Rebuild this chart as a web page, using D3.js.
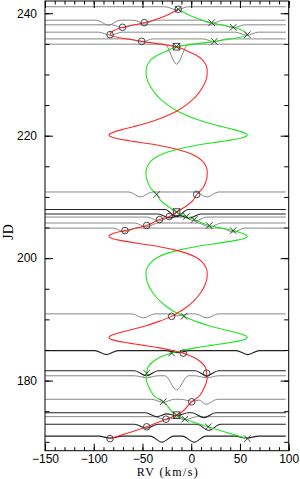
<!DOCTYPE html>
<html><head><meta charset="utf-8">
<script src="https://cdn.jsdelivr.net/npm/d3@7"></script>
<style>html,body{margin:0;padding:0;background:#fff;} svg{display:block;}</style>
</head><body><div id="chart"></div>
<script>
// ---------- data ----------
const xTicks = [-150, -100, -50, 0, 50, 100];
const yTicks = [180, 200, 220, 240];
const xLabel = "RV (km/s)";
const yLabel = "JD";

// observations: JD, primary RV (circle), secondary RV (cross)
const obsJD = [170.52, 172.45, 173.70, 174.35, 176.54, 181.20, 184.49, 190.49,
  204.50, 205.33, 206.30, 206.80, 207.53, 210.40,
  234.54, 235.40, 236.50, 237.70, 238.46, 240.65];
const obsV1 = [-83.3, -45.7, -25.9, -15.0, 0.5, 15.8, -8.2, -20.1,
  -68.0, -45.7, -32.6, -22.5, -15.0, 5.6,
  -15.1, -50.8, -83.3, -70.5, -48.2, -13.3];
const obsV2 = [57.5, 17.5, -6.4, -15.0, -28.7, -45.7, -20.1, -7.4,
  43.1, 18.5, 3.0, -5.0, -15.0, -35.4,
  -15.1, 23.6, 57.5, 43.1, 21.0, -13.3];
const obsBlend = [0,0,0,1,0,0,0,0, 0,0,0,0,1,0, 1,0,0,0,0,0];
// line-profile group of each spectrum and its absorption dips [RV, depth]
const obsProfileSet = ["dark","dark","light","dark","light","dark","dark","light",
  "light","light","light","dark","dark","light",
  "light","light","light","light","light","light"];
const obsDips = [
  [[-83,2],[-30,6],[3,6],[57,2]],
  [[-46,4],[18,6]],
  [[-26,3],[-6,3]],
  [[-35,4],[-15,3],[13,5]],
  [[-29,3],[1,2],[15,5]],
  [[-46,5],[16,5]],
  [[-87,4],[-14,2],[58,4]],
  [[-49,4],[-14,2],[16,4]],
  [[-68,4],[43,4]],
  [[-46,4],[19,4]],
  [[-33,4],[4,4]],
  [[-22,4],[-2,4]],
  [[-15,7]],
  [[-52,5],[16,5]],
  [[-15,20]],
  [[-51,3],[24,3]],
  [[-83,3],[57,3]],
  [[-70,3],[43,3]],
  [[-85,5],[-48,3],[21,3]],
  [[-15,3]]
];
const extraJD = [180.38];
const extraProfileSet = ["light"];
const extraDips = [[[-46,2],[-15,14],[16,2]]];

// orbit model between the observation groups
const modelJD = [177.37,178.35,179.32,180.28,
  182.07,182.87,183.60,184.25,
  184.82,185.34,185.79,186.01,186.21,186.41,186.61,186.81,187.01,187.22,187.43,187.65,187.89,188.40,188.97,189.63,
  191.15,192.02,192.94,193.90,194.88,195.85,196.81,197.73,198.60,199.40,200.13,200.78,201.35,201.87,202.32,202.54,202.74,202.94,203.14,203.34,203.54,203.75,203.96,204.18,
  208.55,209.47,
  211.41,212.38,213.34,214.26,215.13,215.93,216.66,217.31,217.88,218.40,218.85,219.07,219.27,219.47,219.67,219.87,220.07,220.28,220.49,220.71,220.95,221.46,222.03,222.69,223.41,224.21,225.08,226.00,226.96,227.94,228.91,229.87,230.79,231.66,232.46,233.19,233.84];
const modelV1 = [7.62,11.79,14.70,16.27,
  14.73,11.03,4.80,-4.45,
  -17.06,-32.86,-50.57,-59.33,-67.41,-74.34,-79.65,-83.04,-84.35,-83.65,-81.11,-77.06,-71.88,-59.51,-46.34,-33.79,
  -12.83,-4.62,2.16,7.62,11.79,14.70,16.27,16.36,14.73,11.03,4.80,-4.45,-17.06,-32.86,-50.57,-59.33,-67.41,-74.34,-79.65,-83.04,-84.35,-83.65,-81.11,-77.06,
  -4.62,2.16,
  11.79,14.70,16.27,16.36,14.73,11.03,4.80,-4.45,-17.06,-32.86,-50.57,-59.33,-67.41,-74.34,-79.65,-83.04,-84.35,-83.65,-81.11,-77.06,-71.88,-59.51,-46.34,-33.79,-22.56,-12.83,-4.62,2.16,7.62,11.79,14.70,16.27,16.36,14.73,11.03,4.80,-4.45];
const modelV2 = [-37.28,-41.58,-44.57,-46.19,
  -44.61,-40.80,-34.38,-24.85,
  -11.86,4.42,22.66,31.68,40.01,47.14,52.62,56.11,57.46,56.73,54.12,49.95,44.61,31.87,18.30,5.38,
  -16.21,-24.67,-31.66,-37.28,-41.58,-44.57,-46.19,-46.29,-44.61,-40.80,-34.38,-24.85,-11.86,4.42,22.66,31.68,40.01,47.14,52.62,56.11,57.46,56.73,54.12,49.95,
  -24.67,-31.66,
  -41.58,-44.57,-46.19,-46.29,-44.61,-40.80,-34.38,-24.85,-11.86,4.42,22.66,31.68,40.01,47.14,52.62,56.11,57.46,56.73,54.12,49.95,44.61,31.87,18.30,5.38,-6.19,-16.21,-24.67,-31.66,-37.28,-41.58,-44.57,-46.19,-46.29,-44.61,-40.80,-34.38,-24.85];

// ---------- drawing ----------
const W = 300, H = 479;
const L = 45, R = 288.7, T = 1, B = 450.7;
const x = d3.scaleLinear().domain([-150, 100]).range([L, R]);
const y = d3.scaleLinear().domain([168.55, 242]).range([B, T]);

const svg = d3.select("#chart").append("svg").attr("width", W).attr("height", H);
const plot = svg.append("g");
plot.append("clipPath").attr("id","clip").append("rect")
  .attr("x",L).attr("y",T).attr("width",R-L).attr("height",B-T);
const inner = plot.append("g").attr("clip-path","url(#clip)");

const profColor = {dark: "#222", light: "#7a7a7a"};
const profWidth = {dark: 1.1, light: 0.9};
const halfW = 12, contOffset = 2.5;

function profilePts(dips){
  const ds = dips.slice().sort((a,b)=>a[0]-b[0]);
  const pts = [[-150,0]];
  ds.forEach((d,i)=>{
    const prev = ds[i-1];
    if (prev && d[0]-halfW < prev[0]+halfW) {
      pts.pop();
      pts.push([(prev[0]+d[0])/2, Math.min(prev[1],d[1])*0.4]);
    } else pts.push([d[0]-halfW,0]);
    pts.push([d[0], d[1]]);
    pts.push([d[0]+halfW, 0]);
  });
  pts.push([97,0]);
  return pts;
}
function drawProfile(jd, dips, set){
  const base = y(jd) - contOffset;
  const line = d3.line().x(p=>x(p[0])).y(p=>base + p[1]).curve(d3.curveMonotoneX);
  inner.append("path").attr("d", line(profilePts(dips)))
    .attr("fill","none").attr("stroke", profColor[set]).attr("stroke-width", profWidth[set]);
}
extraJD.forEach((jd,i)=>drawProfile(jd, extraDips[i], extraProfileSet[i]));
obsJD.forEach((jd,i)=>drawProfile(jd, obsDips[i], obsProfileSet[i]));

// model curves
const redPts = obsJD.map((jd,i)=>[jd, obsV1[i]]).concat(modelJD.map((jd,i)=>[jd, modelV1[i]])).sort((a,b)=>a[0]-b[0]);
const grnPts = obsJD.map((jd,i)=>[jd, obsV2[i]]).concat(modelJD.map((jd,i)=>[jd, modelV2[i]])).sort((a,b)=>a[0]-b[0]);
const curve = d3.line().x(p=>x(p[1])).y(p=>y(p[0])).curve(d3.curveMonotoneY);
inner.append("path").attr("d", curve(grnPts)).attr("fill","none").attr("stroke","#1ee61e").attr("stroke-width",1.1);
inner.append("path").attr("d", curve(redPts)).attr("fill","none").attr("stroke","#ff2a2a").attr("stroke-width",1.1);

// markers
const mk = "#333", r = 3.3;
obsJD.forEach((jd,i)=>{
  const cy = y(jd), c1 = x(obsV1[i]), c2 = x(obsV2[i]);
  if (obsBlend[i]) {
    inner.append("rect").attr("x",c1-r).attr("y",cy-r).attr("width",2*r).attr("height",2*r)
      .attr("fill","none").attr("stroke",mk).attr("stroke-width",0.9);
  } else {
    inner.append("circle").attr("cx",c1).attr("cy",cy).attr("r",r)
      .attr("fill","none").attr("stroke",mk).attr("stroke-width",0.9);
  }
  inner.append("path").attr("d",`M${c2-r},${cy-r}L${c2+r},${cy+r}M${c2-r},${cy+r}L${c2+r},${cy-r}`)
    .attr("stroke",mk).attr("stroke-width",0.9).attr("fill","none");
});

// axes
const minorX = d3.range(-150, 101, 10);
const minorY = d3.range(170, 242, 5);
function styleAxis(g){
  g.select(".domain").remove();
  g.selectAll("line").attr("stroke","#000").attr("stroke-width",1);
  g.selectAll("text").attr("font-family","'Liberation Sans', Arial, sans-serif").attr("font-size","12px").attr("fill","#000");
}
svg.append("g").attr("transform",`translate(0,${B})`)
  .call(d3.axisBottom(x).tickValues(minorX).tickSize(-3.5).tickFormat("")).call(styleAxis);
svg.append("g").attr("transform",`translate(0,${B})`)
  .call(d3.axisBottom(x).tickValues(xTicks).tickSize(-7).tickPadding(3.5)).call(styleAxis);
svg.append("g").attr("transform",`translate(0,${T})`)
  .call(d3.axisTop(x).tickValues(minorX).tickSize(-3.5).tickFormat("")).call(styleAxis);
svg.append("g").attr("transform",`translate(0,${T})`)
  .call(d3.axisTop(x).tickValues(xTicks).tickSize(-7).tickFormat("")).call(styleAxis);
svg.append("g").attr("transform",`translate(${L},0)`)
  .call(d3.axisLeft(y).tickValues(minorY).tickSize(-4.5).tickFormat("")).call(styleAxis);
svg.append("g").attr("transform",`translate(${L},0)`)
  .call(d3.axisLeft(y).tickValues(yTicks).tickSize(-8).tickPadding(8)).call(styleAxis);
svg.append("g").attr("transform",`translate(${R},0)`)
  .call(d3.axisRight(y).tickValues(minorY).tickSize(-4.5).tickFormat("")).call(styleAxis);
svg.append("g").attr("transform",`translate(${R},0)`)
  .call(d3.axisRight(y).tickValues(yTicks).tickSize(-8).tickFormat("")).call(styleAxis);
svg.append("rect").attr("x",L).attr("y",T).attr("width",R-L).attr("height",B-T)
  .attr("fill","none").attr("stroke","#000").attr("stroke-width",1);

svg.append("text").attr("x",168).attr("y",476).attr("text-anchor","middle")
  .attr("font-family","'Liberation Serif', 'Times New Roman', serif").attr("font-size","12px")
  .attr("letter-spacing","1.4px").text(xLabel);
svg.append("text").attr("transform","translate(13,232) rotate(-90)").attr("text-anchor","middle")
  .attr("font-family","'Liberation Serif', 'Times New Roman', serif").attr("font-size","14px")
  .text(yLabel);
</script></body></html>
